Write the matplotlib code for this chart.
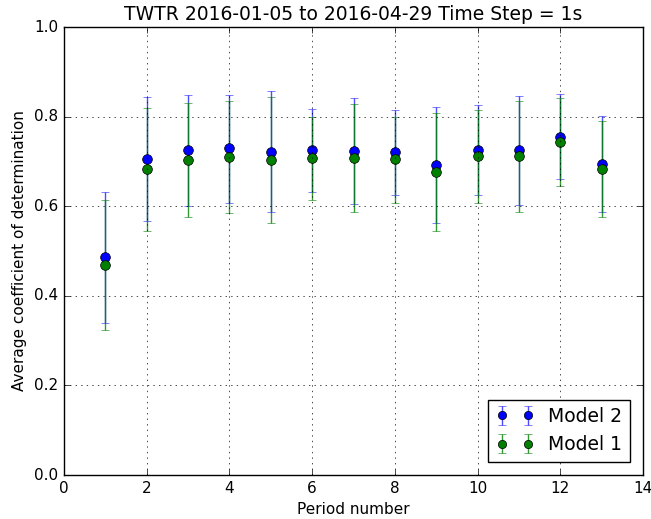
import matplotlib
matplotlib.use("Agg")
from matplotlib import pyplot as plt

periods = [1, 2, 3, 4, 5, 6, 7, 8, 9, 10, 11, 12, 13]

# Model 2 (blue)
m2_mean = [0.486, 0.706, 0.725, 0.729, 0.722, 0.725, 0.724, 0.721, 0.692, 0.725, 0.725, 0.755, 0.694]
m2_top = [0.632, 0.843, 0.848, 0.849, 0.858, 0.816, 0.841, 0.815, 0.821, 0.827, 0.847, 0.850, 0.801]
m2_bot = [0.339, 0.568, 0.601, 0.608, 0.586, 0.632, 0.605, 0.626, 0.562, 0.624, 0.602, 0.660, 0.586]

# Model 1 (green)
m1_mean = [0.469, 0.682, 0.703, 0.710, 0.703, 0.708, 0.708, 0.705, 0.676, 0.711, 0.711, 0.743, 0.684]
m1_top = [0.614, 0.820, 0.831, 0.835, 0.843, 0.800, 0.829, 0.800, 0.808, 0.814, 0.834, 0.841, 0.791]
m1_bot = [0.324, 0.545, 0.575, 0.584, 0.562, 0.613, 0.586, 0.608, 0.545, 0.608, 0.586, 0.644, 0.575]


def err(mean, top, bot):
    return [[m - b for m, b in zip(mean, bot)], [t - m for m, t in zip(mean, top)]]


def main():
    plt.style.use("classic")
    fig = plt.figure(figsize=(6.51, 5.19), dpi=100, facecolor="white")
    ax = fig.add_axes([64 / 651, 1 - 475 / 519, (643 - 64) / 651, (475 - 27) / 519])

    ax.errorbar(periods, m2_mean, yerr=err(m2_mean, m2_top, m2_bot), fmt="bo",
                ecolor=(0, 0, 1, 0.7), capsize=3, elinewidth=1, markersize=7,
                mec="black", label="Model 2")
    ax.errorbar(periods, m1_mean, yerr=err(m1_mean, m1_top, m1_bot), fmt="go",
                ecolor=(0, 0.5, 0, 0.8), capsize=3, elinewidth=1, markersize=7,
                mec="black", label="Model 1")

    ax.set_xlim(0, 14)
    ax.set_ylim(0, 1.0)
    ax.set_xticks(range(0, 15, 2))
    ax.set_yticks([0.0, 0.2, 0.4, 0.6, 0.8, 1.0])
    ax.grid(True, linestyle=":", color="black")
    ax.tick_params(labelsize=11)
    ax.set_title("TWTR 2016-01-05 to 2016-04-29 Time Step = 1s", fontsize=13.5)
    ax.set_xlabel("Period number", fontsize=11)
    ax.set_ylabel("Average coefficient of determination", fontsize=11)
    ax.legend(loc="lower right", numpoints=2, fontsize=13.5, markerscale=0.85,
              borderaxespad=0.7)

    fig.savefig("out.png", dpi=100, facecolor="white")


if __name__ == "__main__":
    main()
